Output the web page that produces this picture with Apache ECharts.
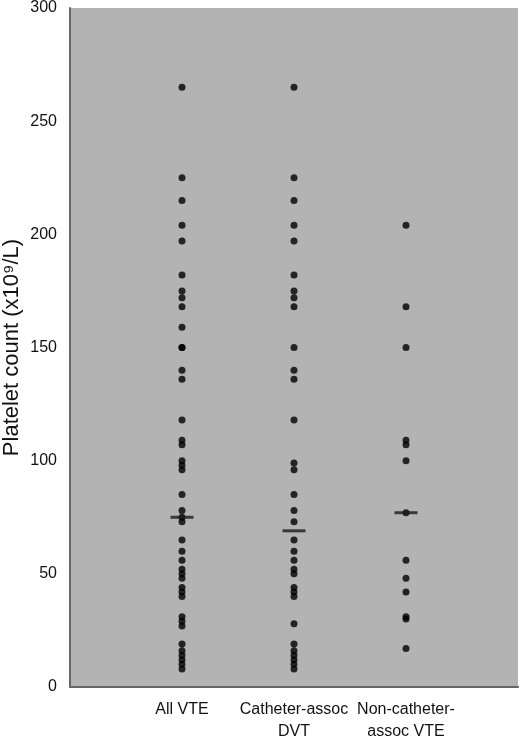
<!DOCTYPE html>
<html>
<head>
<meta charset="utf-8">
<script src="https://cdn.jsdelivr.net/npm/echarts@6/dist/echarts.min.js"></script>
<style>html,body{margin:0;padding:0;background:#fff}#c{width:520px;height:739px}</style>
</head>
<body>
<div id="c"></div>
<script>
const categories = ['All VTE', 'Catheter-assoc\nDVT', 'Non-catheter-\nassoc VTE'];
const allVTE = [265,225,215,204,197,182,175,172,168,159,150,150,140,136,118,109,107,100,98,96,85,78,75,73,65,60,56,52,50,48,44,42,40,31,29,27,19,16,14,12,10,8];
const cathDVT = [265,225,215,204,197,182,175,172,168,150,140,136,118,99,96,85,78,73,65,60,56,52,50,44,42,40,28,19,16,14,12,10,8];
const nonCath = [204,168,150,109,107,100,77,56,48,42,31,30,17];
const medians = [75,69,77];
const yTicks = [0,50,100,150,200,250,300];

const groups = [allVTE, cathDVT, nonCath];
const pts = [];
groups.forEach((g, i) => g.forEach(v => pts.push([i + 1, v])));
const medPts = medians.map((m, i) => [i + 1, m]);

const FONT = 'Liberation Sans, Arial, Helvetica, sans-serif';
const chart = echarts.init(document.getElementById('c'), null, {renderer: 'canvas'});
chart.setOption({
  animation: false,
  grid: {left: 70, right: 2, top: 8, bottom: 52, show: true, backgroundColor: '#b3b3b3', borderWidth: 0,
         containLabel: false, outerBoundsMode: 'none'},
  xAxis: {
    type: 'value', min: 0, max: 4, interval: 1,
    axisLine: {show: true, onZero: false, lineStyle: {color: '#666', width: 2}},
    axisTick: {show: false},
    splitLine: {show: false},
    axisLabel: {
      margin: 12, color: '#111', fontSize: 16, fontFamily: FONT, lineHeight: 22,
      formatter: v => (v >= 1 && v <= 3) ? categories[v - 1] : ''
    }
  },
  yAxis: {
    type: 'value', min: 0, max: 300, interval: 50,
    name: 'Platelet count (x10⁹/L)', nameLocation: 'middle', nameGap: 47, nameMoveOverlap: false,
    nameTextStyle: {fontSize: 22, color: '#111', fontFamily: FONT},
    axisLine: {show: true, lineStyle: {color: '#666', width: 2}},
    axisTick: {show: false},
    splitLine: {show: false},
    axisLabel: {margin: 13, color: '#111', fontSize: 16, fontFamily: FONT,
      formatter: v => yTicks.includes(v) ? String(v) : ''}
  },
  series: [
    {type: 'scatter', data: pts, symbol: 'circle', symbolSize: 7, itemStyle: {color: '#000'}, z: 3},
    {type: 'scatter', data: medPts, symbol: 'rect', symbolSize: [23, 3], itemStyle: {color: '#1a1a1a'}, z: 4}
  ]
});
</script>
</body>
</html>
